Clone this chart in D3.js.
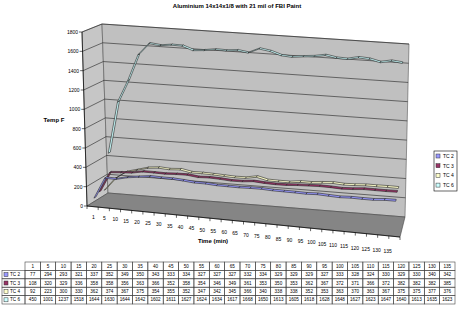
<!DOCTYPE html>
<html>
<head>
<meta charset="utf-8">
<script src="https://cdn.jsdelivr.net/npm/d3@7"></script>
<style>
  body { margin: 0; background: #fff; }
  svg { display: block; font-family: Arial, "Liberation Sans", sans-serif; }
</style>
</head>
<body>
<div id="chart"></div>
<script>
var times = [1, 5, 10, 15, 20, 25, 30, 35, 40, 45, 50, 55, 60, 65, 70, 75, 80, 85, 90, 95, 100, 105, 110, 115, 120, 125, 130, 135];
var seriesNames = ['TC 2', 'TC 3', 'TC 4', 'TC 6'];
var tc2 = [77, 294, 293, 321, 337, 352, 349, 350, 343, 333, 334, 327, 327, 327, 332, 334, 329, 329, 329, 327, 333, 328, 324, 330, 329, 330, 340, 342];
var tc3 = [108, 320, 329, 336, 358, 358, 356, 363, 366, 352, 358, 354, 346, 349, 361, 353, 350, 353, 362, 367, 372, 371, 366, 372, 382, 382, 382, 385];
var tc4 = [92, 223, 300, 330, 362, 374, 367, 375, 354, 355, 352, 347, 342, 345, 366, 340, 338, 338, 352, 353, 363, 370, 363, 367, 375, 375, 377, 376];
var tc6 = [450, 1001, 1237, 1518, 1644, 1630, 1644, 1642, 1602, 1611, 1627, 1624, 1634, 1617, 1668, 1650, 1613, 1605, 1618, 1628, 1648, 1627, 1623, 1647, 1640, 1613, 1635, 1623];
var yTicks = [0, 200, 400, 600, 800, 1000, 1200, 1400, 1600, 1800];
var seriesColors = ['#9999FF', '#993366', '#FFFFCC', '#CCFFFF'];

var allSeries = [tc2, tc3, tc4, tc6];
var width = 460, height = 321;

var svg = d3.select('#chart').append('svg')
    .attr('width', width)
    .attr('height', height);

// corners of the 3d box (front/back, left/right, bottom 0 / top 1)
var FL0 = [87, 206], FL1 = [82, 32];
var BL0 = [108, 193], BL1 = [102, 24];
var FR0 = [400, 237], FR1 = [405, 59];
var BR0 = [405, 217], BR1 = [409, 44];

function lerp(a, b, t) { return [a[0] + (b[0] - a[0]) * t, a[1] + (b[1] - a[1]) * t]; }

function project(u, v, w) {
    var p0 = lerp(lerp(FL0, FR0, u), lerp(BL0, BR0, u), v);
    var p1 = lerp(lerp(FL1, FR1, u), lerp(BL1, BR1, u), v);
    return lerp(p0, p1, w);
}

var x = d3.scaleBand().domain(times).range([0, 1]);
var y = d3.scaleLinear().domain([0, 1800]).range([0, 1]);
var z = d3.scaleBand().domain(seriesNames).range([0, 1]);

function ux(t) { return x(t) + x.bandwidth() / 2; }

var poly = function (pts) { return 'M' + pts.map(function (p) { return p[0] + ',' + p[1]; }).join('L') + 'Z'; };

// title
svg.append('text')
    .attr('x', 237).attr('y', 8)
    .attr('text-anchor', 'middle')
    .style('font-size', '6px').style('font-weight', 'bold')
    .text('Aluminium 14x14x1/8 with 21 mil of FBI Paint');

// walls and floor
svg.append('path')
    .attr('d', poly([project(0, 0, 0), project(0, 0, 1), project(0, 1, 1), project(0, 1, 0)]))
    .attr('fill', '#c6c6c6').attr('stroke', '#555').attr('stroke-width', 0.6);
svg.append('path')
    .attr('d', poly([project(0, 1, 0), project(0, 1, 1), project(1, 1, 1), project(1, 1, 0)]))
    .attr('fill', '#c0c0c0').attr('stroke', '#555').attr('stroke-width', 0.6);
svg.append('path')
    .attr('d', poly([project(0, 0, 0), project(0, 1, 0), project(1, 1, 0), project(1, 0, 0)]))
    .attr('fill', '#858585').attr('stroke', '#444').attr('stroke-width', 0.6);

// gridlines on side and back wall
svg.selectAll('.grid')
    .data(yTicks.slice(1)).enter()
    .append('path')
    .attr('class', 'grid')
    .attr('d', function (d) {
        var w = y(d);
        return 'M' + project(0, 0, w) + 'L' + project(0, 1, w) + 'L' + project(1, 1, w);
    })
    .attr('fill', 'none').attr('stroke', '#222').attr('stroke-width', 0.6);

// value axis
svg.append('path')
    .attr('d', 'M' + project(0, 0, 0) + 'L' + project(0, 0, 1))
    .attr('stroke', '#000').attr('stroke-width', 0.7);
var yt = svg.selectAll('.ytick')
    .data(yTicks).enter()
    .append('g').attr('class', 'ytick');
yt.append('line')
    .attr('x1', function (d) { return project(0, 0, y(d))[0] - 3; })
    .attr('x2', function (d) { return project(0, 0, y(d))[0]; })
    .attr('y1', function (d) { return project(0, 0, y(d))[1]; })
    .attr('y2', function (d) { return project(0, 0, y(d))[1]; })
    .attr('stroke', '#000').attr('stroke-width', 0.6);
yt.append('text')
    .attr('x', function (d) { return project(0, 0, y(d))[0] - 4; })
    .attr('y', function (d) { return project(0, 0, y(d))[1]; })
    .attr('text-anchor', 'end')
    .attr('dominant-baseline', 'central')
    .style('font-size', '5px')
    .text(function (d) { return d; });

svg.append('text')
    .attr('x', 54).attr('y', 120)
    .attr('text-anchor', 'middle').attr('dominant-baseline', 'central')
    .style('font-size', '6px').style('font-weight', 'bold')
    .text('Temp F');

// category axis
svg.append('path')
    .attr('d', 'M' + project(0, 0, 0) + 'L' + project(1, 0, 0))
    .attr('stroke', '#000').attr('stroke-width', 0.7);
svg.selectAll('.xtick')
    .data(d3.range(times.length + 1)).enter()
    .append('line').attr('class', 'xtick')
    .attr('x1', function (i) { return project(i / times.length, 0, 0)[0]; })
    .attr('x2', function (i) { return project(i / times.length, 0, 0)[0]; })
    .attr('y1', function (i) { return project(i / times.length, 0, 0)[1]; })
    .attr('y2', function (i) { return project(i / times.length, 0, 0)[1] + 3; })
    .attr('stroke', '#000').attr('stroke-width', 0.6);
svg.selectAll('.xlab')
    .data(times).enter()
    .append('text').attr('class', 'xlab')
    .attr('x', function (d) { var u = ux(d); return project(u, 0, 0)[0] + 1 - 8 * u; })
    .attr('y', function (d) { var u = ux(d); return project(u, 0, 0)[1] + 10 + 5 * u; })
    .attr('text-anchor', 'middle').attr('dominant-baseline', 'central')
    .style('font-size', '5px')
    .text(function (d) { return d; });

svg.append('text')
    .attr('x', 213).attr('y', 241)
    .attr('text-anchor', 'middle').attr('dominant-baseline', 'central')
    .style('font-size', '6px').style('font-weight', 'bold')
    .text('Time (min)');

// ribbons, back series first
var half = z.bandwidth() * 0.2;
d3.range(seriesNames.length).reverse().forEach(function (j) {
    var vals = allSeries[j];
    var v = z(seriesNames[j]) + z.bandwidth() / 2;
    var segs = d3.range(vals.length - 1);
    svg.append('g').selectAll('path')
        .data(segs).enter()
        .append('path')
        .attr('d', function (i) {
            var u0 = ux(times[i]), u1 = ux(times[i + 1]);
            var w0 = y(vals[i]), w1 = y(vals[i + 1]);
            return poly([project(u0, v - half, w0), project(u1, v - half, w1),
                         project(u1, v + half, w1), project(u0, v + half, w0)]);
        })
        .attr('fill', seriesColors[j])
        .attr('stroke', '#222').attr('stroke-width', 0.6)
        .attr('stroke-linejoin', 'round');
});

// legend
var lg = svg.append('g').attr('transform', 'translate(434,151)');
lg.append('rect').attr('width', 23).attr('height', 40)
    .attr('fill', '#fff').attr('stroke', '#000').attr('stroke-width', 0.6);
var li = lg.selectAll('.li').data(seriesNames).enter()
    .append('g').attr('transform', function (d, i) { return 'translate(2,' + (5 + i * 9.7) + ')'; });
li.append('rect').attr('x', 0).attr('y', -2).attr('width', 4).attr('height', 4)
    .attr('fill', function (d, i) { return seriesColors[i]; })
    .attr('stroke', '#333').attr('stroke-width', 0.5);
li.append('text').attr('x', 7).attr('y', 0)
    .attr('dominant-baseline', 'central')
    .style('font-size', '5px')
    .text(function (d) { return d; });

// data table
var col = d3.scaleBand().domain(times).range([25, 455]);
var row = d3.scaleBand().domain(['hdr'].concat(seriesNames)).range([262, 304]);
var tb = svg.append('g');
tb.selectAll('.hc').data(times).enter()
    .append('rect')
    .attr('x', function (d) { return col(d); }).attr('y', row('hdr'))
    .attr('width', col.bandwidth()).attr('height', row.bandwidth())
    .attr('fill', 'none').attr('stroke', '#444').attr('stroke-width', 0.6);
tb.selectAll('.ht').data(times).enter()
    .append('text')
    .attr('x', function (d) { return col(d) + col.bandwidth() / 2; })
    .attr('y', row('hdr') + row.bandwidth() / 2)
    .attr('text-anchor', 'middle').attr('dominant-baseline', 'central')
    .style('font-size', '4.6px')
    .text(function (d) { return d; });
seriesNames.forEach(function (name, j) {
    var ry = row(name);
    tb.append('rect').attr('x', 2).attr('y', ry).attr('width', 23).attr('height', row.bandwidth())
        .attr('fill', 'none').attr('stroke', '#444').attr('stroke-width', 0.6);
    tb.append('rect').attr('x', 4).attr('y', ry + row.bandwidth() / 2 - 2).attr('width', 4).attr('height', 4)
        .attr('fill', seriesColors[j]).attr('stroke', '#333').attr('stroke-width', 0.5);
    tb.append('text').attr('x', 10).attr('y', ry + row.bandwidth() / 2)
        .attr('dominant-baseline', 'central').style('font-size', '4.6px').text(name);
    tb.selectAll(null).data(allSeries[j]).enter()
        .append('rect')
        .attr('x', function (d, i) { return col(times[i]); }).attr('y', ry)
        .attr('width', col.bandwidth()).attr('height', row.bandwidth())
        .attr('fill', 'none').attr('stroke', '#444').attr('stroke-width', 0.6);
    tb.selectAll(null).data(allSeries[j]).enter()
        .append('text')
        .attr('x', function (d, i) { return col(times[i]) + col.bandwidth() / 2; })
        .attr('y', ry + row.bandwidth() / 2)
        .attr('text-anchor', 'middle').attr('dominant-baseline', 'central')
        .style('font-size', '4.6px')
        .text(function (d) { return d; });
});
</script>
</body>
</html>
